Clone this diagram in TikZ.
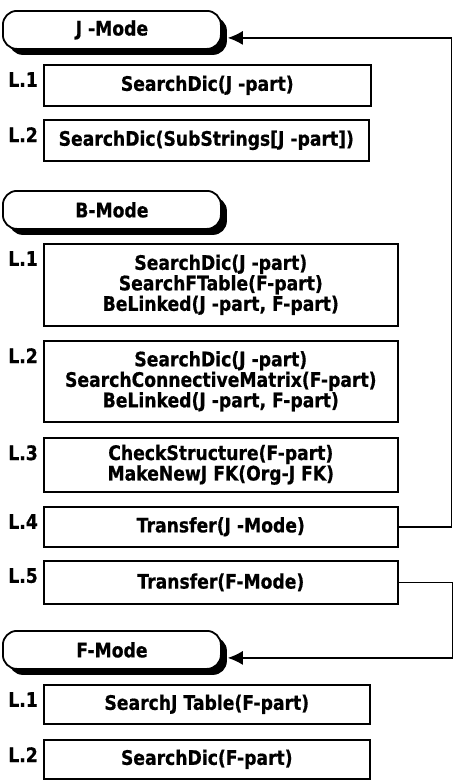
\documentclass[tikz,border=0pt]{standalone}
\usepackage{fontspec}
\setmainfont{DejaVu Sans}
\newfontfamily\diagfont{DejaVu Sans}[FakeStretch=0.86, BoldFeatures={FakeBold=0.6}]
\usetikzlibrary{arrows.meta,shadows}

\begin{document}
\begin{tikzpicture}[x=1pt, y=-1pt,
  mode/.style={draw, line width=1.8pt, rounded corners=14pt, fill=white, anchor=north west, minimum width=218pt, minimum height=38pt, font=\diagfont\bfseries\fontsize{20}{20}\selectfont, drop shadow={shadow xshift=6pt, shadow yshift=-6pt, fill=black, opacity=1}},
  op/.style={draw, line width=1.6pt, anchor=north west, align=center, inner sep=0pt, minimum height=41pt, font=\diagfont\bfseries\fontsize{20}{20.5}\selectfont},
  lvl/.style={anchor=north east, inner sep=0pt, font=\diagfont\bfseries\fontsize{20}{20}\selectfont},
  arr/.style={-{Latex[length=15pt,width=14pt]}, line width=1.4pt}
]
\useasboundingbox (0,0) rectangle (456,780);

% J-Mode
\node[mode] (jmode) at (2,10) {J -Mode};
\node[op, minimum width=327pt] (j1) at (43,64) {SearchDic(J -part)};
\node[op, minimum width=325pt] (j2) at (43,119) {SearchDic(SubStrings[J -part])};

% B-Mode
\node[mode] (bmode) at (2,190) {B-Mode};
\node[op, minimum width=354pt, minimum height=82pt] (b1) at (43,243) {SearchDic(J -part)\\SearchFTable(F-part)\\BeLinked(J -part, F-part)};
\node[op, minimum width=354pt, minimum height=81pt] (b2) at (43,340) {SearchDic(J -part)\\SearchConnectiveMatrix(F-part)\\BeLinked(J -part, F-part)};
\node[op, minimum width=354pt, minimum height=54pt] (b3) at (43,437) {CheckStructure(F-part)\\MakeNewJ FK(Org-J FK)};
\node[op, minimum width=354pt, minimum height=40pt] (b4) at (43,506) {Transfer(J -Mode)};
\node[op, minimum width=354pt, minimum height=43pt] (b5) at (43,560) {Transfer(F-Mode)};

% F-Mode
\node[mode] (fmode) at (2,630) {F-Mode};
\node[op, minimum width=326pt, minimum height=39pt] (f1) at (43,684) {SearchJ Table(F-part)};
\node[op, minimum width=326pt, minimum height=39pt] (f2) at (43,739) {SearchDic(F-part)};

% level labels
\foreach \b/\t in {j1/L.1, j2/L.2, b1/L.1, b2/L.2, b3/L.3, b4/L.4, b5/L.5, f1/L.1, f2/L.2}
  \node[lvl] (lbl-\b) at ([xshift=-5pt, yshift=-8pt]\b.north west) {\t};

% transfers
\draw[arr] (b4.east) -- ++(53,0) |- ([shift={(6pt,-8pt)}]jmode.east);
\draw[arr] (b5.east) -- ++(54,0) |- ([shift={(6pt,-8pt)}]fmode.east);

\end{tikzpicture}
\end{document}
